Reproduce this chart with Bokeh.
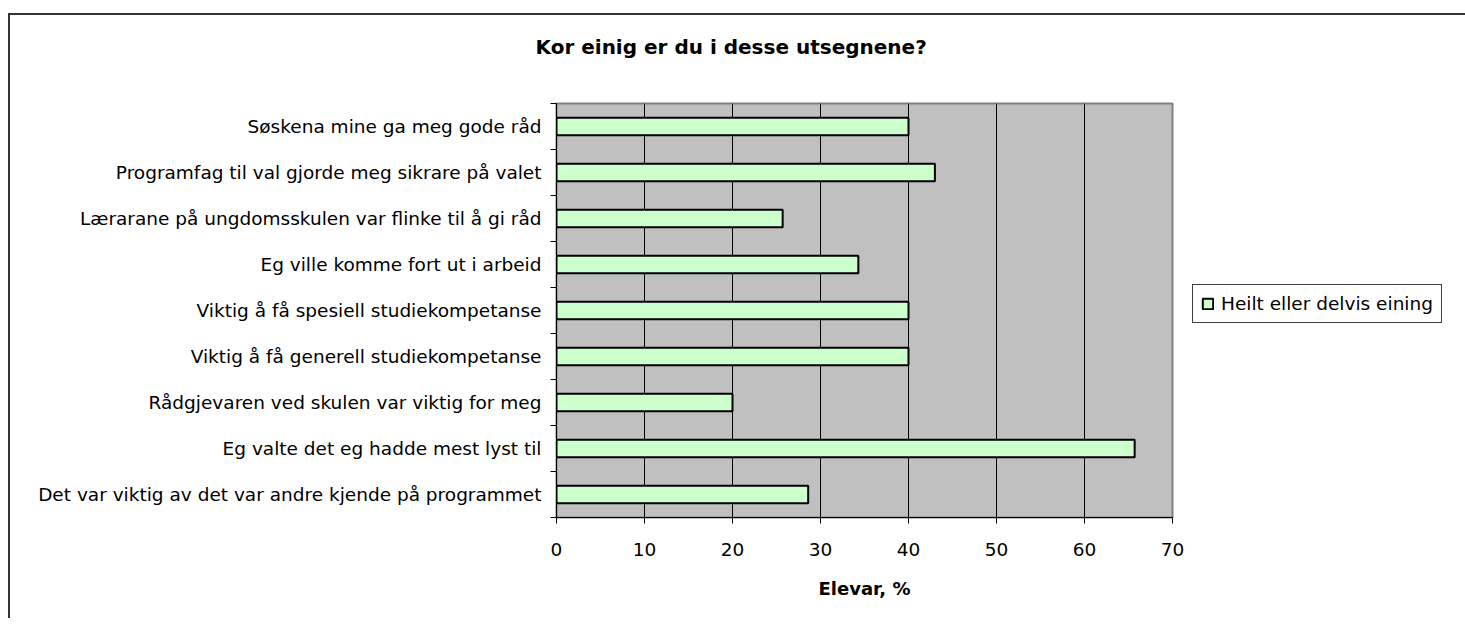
from bokeh.plotting import figure
from bokeh.models import (Range1d, LinearAxis, FixedTicker,
                          Legend, LegendItem, ColumnDataSource)
from bokeh.embed import file_html
from bokeh.resources import INLINE

title_text = "Kor einig er du i desse utsegnene?"
categories = [
    "Søskena mine ga meg gode råd",
    "Programfag til val gjorde meg sikrare på valet",
    "Lærarane på ungdomsskulen var flinke til å gi råd",
    "Eg ville komme fort ut i arbeid",
    "Viktig å få spesiell studiekompetanse",
    "Viktig å få generell studiekompetanse",
    "Rådgjevaren ved skulen var viktig for meg",
    "Eg valte det eg hadde mest lyst til",
    "Det var viktig av det var andre kjende på programmet",
]
values = [40.0, 43.0, 25.7, 34.3, 40.0, 40.0, 20.0, 65.7, 28.6]
series_name = "Heilt eller delvis eining"
x_ticks = [0, 10, 20, 30, 40, 50, 60, 70]
x_label = "Elevar, %"

FONT = "DejaVu Sans"

n = len(categories)
# category slot centres, first category on top
ypos = [n - i - 0.5 for i in range(n)]
src = ColumnDataSource(dict(y=ypos, val=values, cat=categories))

p = figure(frame_width=616, frame_height=414,
           y_range=Range1d(0, n),
           x_range=Range1d(x_ticks[0], x_ticks[-1]),
           output_backend="svg", toolbar_location=None,
           y_axis_location=None,
           min_border_left=546, min_border_right=280,
           min_border_top=87, min_border_bottom=101,
           background_fill_color="#C0C0C0", border_fill_color="white",
           outline_line_color="#808080", outline_line_width=2,
           styles={"border-top": "2px solid #333333", "border-left": "2px solid #333333"},
           margin=(13, 0, 0, 8))

# category boundary ticks
tick_axis = LinearAxis(ticker=FixedTicker(ticks=list(range(n + 1))),
                       major_label_text_font_size="1px",
                       major_label_text_color=None, major_label_standoff=0,
                       major_tick_out=6, major_tick_in=0,
                       minor_tick_out=0, minor_tick_in=0,
                       axis_line_color="black", axis_line_width=1,
                       major_tick_line_color="black")
p.add_layout(tick_axis, "left")

cat_axis = LinearAxis(ticker=FixedTicker(ticks=ypos),
                      major_label_overrides={y: c for y, c in zip(ypos, categories)},
                      major_tick_line_color=None, minor_tick_line_color=None,
                      axis_line_color=None,
                      major_label_text_font=FONT,
                      major_label_text_font_size="18.5px",
                      major_label_text_color="black",
                      major_label_standoff=3)
p.add_layout(cat_axis, "left")

r = p.hbar(y="y", left=0, right="val", height=0.38, source=src,
           fill_color="#CCFFCC", line_color="black", line_width=2)

xa = p.xaxis[0]
xa.ticker = FixedTicker(ticks=x_ticks)
xa.major_tick_out = 6
xa.major_tick_in = 0
xa.minor_tick_out = 0
xa.minor_tick_in = 0
xa.axis_line_color = "black"
xa.major_tick_line_color = "black"
xa.major_label_text_font = FONT
xa.major_label_text_font_size = "18.5px"
xa.major_label_text_color = "black"
xa.major_label_standoff = 19
xa.axis_label = x_label
xa.axis_label_text_font = FONT
xa.axis_label_text_font_style = "bold"
xa.axis_label_text_font_size = "18px"
xa.axis_label_text_color = "black"
xa.axis_label_standoff = 19

p.xgrid.ticker = FixedTicker(ticks=x_ticks)
p.xgrid.grid_line_color = "black"
p.xgrid.grid_line_width = 1
p.ygrid.grid_line_color = None

# title: a trailing empty line lifts it further above the plot area
p.title.text = title_text + "\n "
p.title.align = "left"
p.title.offset = -21
p.title.text_font = FONT
p.title.text_font_style = "bold"
p.title.text_font_size = "20px"
p.title.text_color = "black"
p.title.text_line_height = 1.1
p.title.standoff = 36

legend = Legend(items=[LegendItem(label=series_name, renderers=[r])],
                location=(20, 194),
                label_text_font=FONT, label_text_font_size="18.5px",
                label_text_color="black",
                glyph_width=13, glyph_height=13,
                border_line_color="#404040", border_line_width=1,
                border_line_alpha=1,
                background_fill_color="white", background_fill_alpha=1,
                padding=8, margin=0, label_standoff=7)
p.add_layout(legend, "right")

open("out.html", "w").write(file_html(p, INLINE))
